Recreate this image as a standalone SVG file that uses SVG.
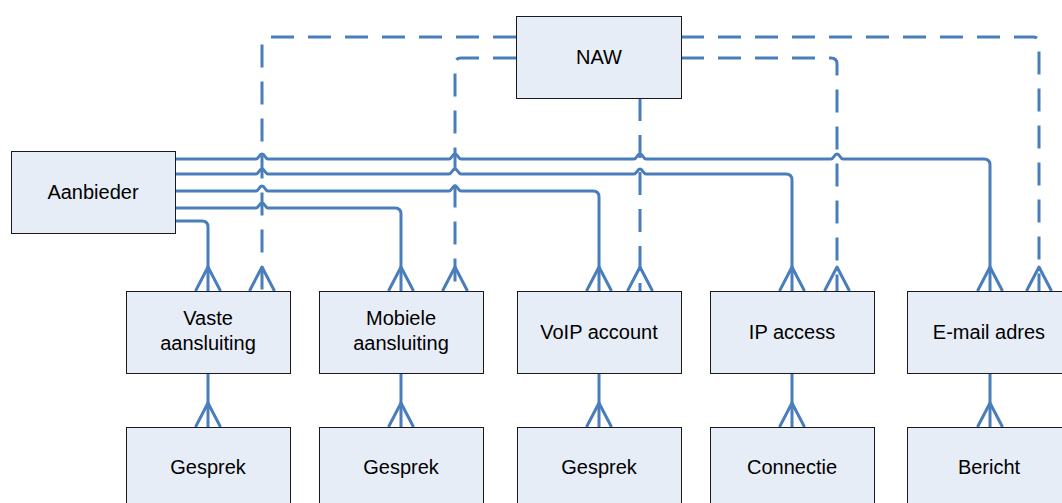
<svg xmlns="http://www.w3.org/2000/svg" width="1062" height="503" viewBox="0 0 1062 503">
<style>
.box{fill:#E7EDF7;stroke:#1a1a1a;stroke-width:1}
.lbl{font-family:"Liberation Sans",Arial,sans-serif;font-size:20px;fill:#000;text-anchor:middle}
.c{fill:none;stroke:#4A7EBB;stroke-width:3;stroke-linejoin:round}
.d{stroke-dasharray:23 14}
</style>
<rect width="1062" height="503" fill="#fff"/>
<g id="connectors">
  <!-- dashed NAW relations -->
  <path class="c d" d="M516,37 H268 Q262,37 262,43 V291"/>
  <path class="c d" d="M516,58 H461 Q455,58 455,64 V291"/>
  <path class="c d" d="M640,98 V291"/>
  <path class="c d" d="M681,58 H831 Q837,58 837,64 V291"/>
  <path class="c d" d="M681,37 H1033 Q1039,37 1039,43 V291"/>
  <!-- solid Aanbieder relations -->
  <path class="c" d="M175,221 H202 Q208,221 208,227 V291"/>
  <path class="c" d="M175,208 H256 C259,208 259,203 262,203 C265,203 265,208 268,208 H395 Q401,208 401,214 V291"/>
  <path class="c" d="M175,191 H256 C259,191 259,186 262,186 C265,186 265,191 268,191 H449 C452,191 452,186 455,186 C458,186 458,191 461,191 H593 Q599,191 599,197 V291"/>
  <path class="c" d="M175,174 H256 C259,174 259,169 262,169 C265,169 265,174 268,174 H449 C452,174 452,169 455,169 C458,169 458,174 461,174 H634 C637,174 637,169 640,169 C643,169 643,174 646,174 H786 Q792,174 792,180 V291"/>
  <path class="c" d="M175,159 H256 C259,159 259,154 262,154 C265,154 265,159 268,159 H449 C452,159 452,154 455,154 C458,154 458,159 461,159 H634 C637,159 637,154 640,154 C643,154 643,159 646,159 H831 C834,159 834,154 837,154 C840,154 840,159 843,159 H984 Q990,159 990,165 V291"/>
  <!-- row 1 to row 2 -->
  <path class="c" d="M208,373 V427 M401,373 V427 M599,373 V427 M792,373 V427 M990,373 V427"/>
  <!-- crow's feet row 1 -->
  <path class="c" d="M195.5,291 L208,267 L220.5,291 M249.5,291 L262,267 L274.5,291 M388.5,291 L401,267 L413.5,291 M442.5,291 L455,267 L467.5,291 M586.5,291 L599,267 L611.5,291 M627.5,291 L640,267 L652.5,291 M779.5,291 L792,267 L804.5,291 M824.5,291 L837,267 L849.5,291 M977.5,291 L990,267 L1002.5,291 M1026.5,291 L1039,267 L1051.5,291"/>
  <!-- crow's feet row 2 -->
  <path class="c" d="M195.5,427 L208,403 L220.5,427 M388.5,427 L401,403 L413.5,427 M586.5,427 L599,403 L611.5,427 M779.5,427 L792,403 L804.5,427 M977.5,427 L990,403 L1002.5,427"/>
</g>
<g id="naw"><rect class="box" x="516.5" y="16.5" width="165" height="82"/><text class="lbl" x="599" y="64">NAW</text></g>
<g id="aanbieder"><rect class="box" x="11.5" y="151.5" width="164" height="82"/><text class="lbl" x="93" y="199">Aanbieder</text></g>
<g id="vaste"><rect class="box" x="126.5" y="291.5" width="164" height="82"/><text class="lbl" x="208" y="325">Vaste</text><text class="lbl" x="208" y="350">aansluiting</text></g>
<g id="mobiele"><rect class="box" x="319.5" y="291.5" width="164" height="82"/><text class="lbl" x="401" y="325">Mobiele</text><text class="lbl" x="401" y="350">aansluiting</text></g>
<g id="voip"><rect class="box" x="517.5" y="291.5" width="164" height="82"/><text class="lbl" x="599" y="339">VoIP account</text></g>
<g id="ipaccess"><rect class="box" x="710.5" y="291.5" width="164" height="82"/><text class="lbl" x="792" y="339">IP access</text></g>
<g id="email"><rect class="box" x="907.5" y="291.5" width="164" height="82"/><text class="lbl" x="989" y="339">E-mail adres</text></g>
<g id="gesprek1"><rect class="box" x="126.5" y="427.5" width="164" height="82"/><text class="lbl" x="208" y="474">Gesprek</text></g>
<g id="gesprek2"><rect class="box" x="319.5" y="427.5" width="164" height="82"/><text class="lbl" x="401" y="474">Gesprek</text></g>
<g id="gesprek3"><rect class="box" x="517.5" y="427.5" width="164" height="82"/><text class="lbl" x="599" y="474">Gesprek</text></g>
<g id="connectie"><rect class="box" x="710.5" y="427.5" width="164" height="82"/><text class="lbl" x="792" y="474">Connectie</text></g>
<g id="bericht"><rect class="box" x="907.5" y="427.5" width="164" height="82"/><text class="lbl" x="989" y="474">Bericht</text></g>
</svg>
